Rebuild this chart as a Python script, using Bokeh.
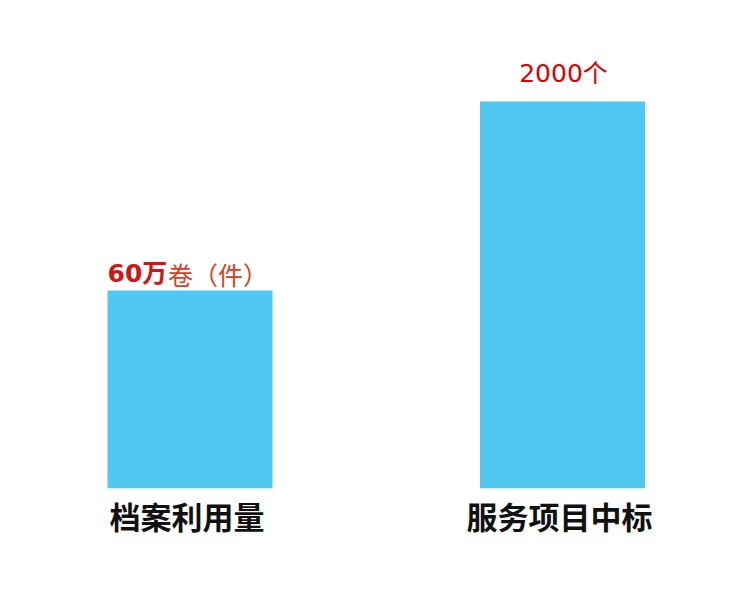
from bokeh.plotting import figure
from bokeh.models import Range1d, FixedTicker, ColumnDataSource
from bokeh.core.properties import value
from bokeh.embed import file_html
from bokeh.resources import INLINE

# data
categories = ["档案利用量", "服务项目中标"]
bar_heights = [198, 387]          # relative bar heights
label_main = ["60万", "2000个"]
label_suffix = ["卷（件）"]
xpos = [0, 1]

p = figure(width=730, height=578, output_backend="svg", toolbar_location=None,
           x_range=Range1d(-0.5087, 1.4510), y_range=Range1d(0, 488),
           min_border_left=0, min_border_right=0, min_border_top=0, min_border_bottom=90)
p.outline_line_color = None
p.xgrid.visible = False
p.ygrid.visible = False
p.yaxis.visible = False
p.background_fill_color = "white"
p.border_fill_color = "white"

p.vbar(x=xpos, top=bar_heights, width=0.443, bottom=0, color="#50C8F2", line_color=None)

label_shift = -3 / 372.5
ax = p.xaxis[0]
ax.ticker = FixedTicker(ticks=[x + label_shift for x in xpos])
ax.major_label_overrides = {x + label_shift: c for x, c in zip(xpos, categories)}
ax.axis_line_color = None
ax.major_tick_line_color = None
ax.minor_tick_line_color = None
ax.major_tick_out = 0
ax.major_tick_in = 0
ax.major_label_standoff = 4
ax.major_label_text_font = "Noto Sans CJK SC"
ax.major_label_text_font_style = "bold"
ax.major_label_text_font_size = "31px"
ax.major_label_text_color = "#111111"

# value labels (1 data unit == 1 px vertically)
gap1, gap2 = 17, 28
s1 = ColumnDataSource(dict(x=[xpos[0]], y=[bar_heights[0] + gap1], t=[label_main[0]]))
p.text(x="x", y="y", text="t", source=s1, text_align="left", text_baseline="alphabetic",
       x_offset=-82.5, text_font=value("DejaVu Sans, Noto Sans CJK SC"),
       text_font_style="bold", text_font_size="25px", text_color="#D41414")
s1b = ColumnDataSource(dict(x=[xpos[0]], y=[bar_heights[0] + gap1], t=label_suffix))
p.text(x="x", y="y", text="t", source=s1b, text_align="left", text_baseline="alphabetic",
       x_offset=-22, text_font=value("Noto Sans CJK SC"),
       text_font_size="25px", text_color="#D8401E")
s2 = ColumnDataSource(dict(x=[xpos[1]], y=[bar_heights[1] + gap2], t=[label_main[1]]))
p.text(x="x", y="y", text="t", source=s2, text_align="center", text_baseline="alphabetic",
       x_offset=1, text_font=value("DejaVu Sans, Noto Sans CJK SC"),
       text_font_size="25px", text_color="#E00000")

open("out.html", "w").write(file_html(p, INLINE))
